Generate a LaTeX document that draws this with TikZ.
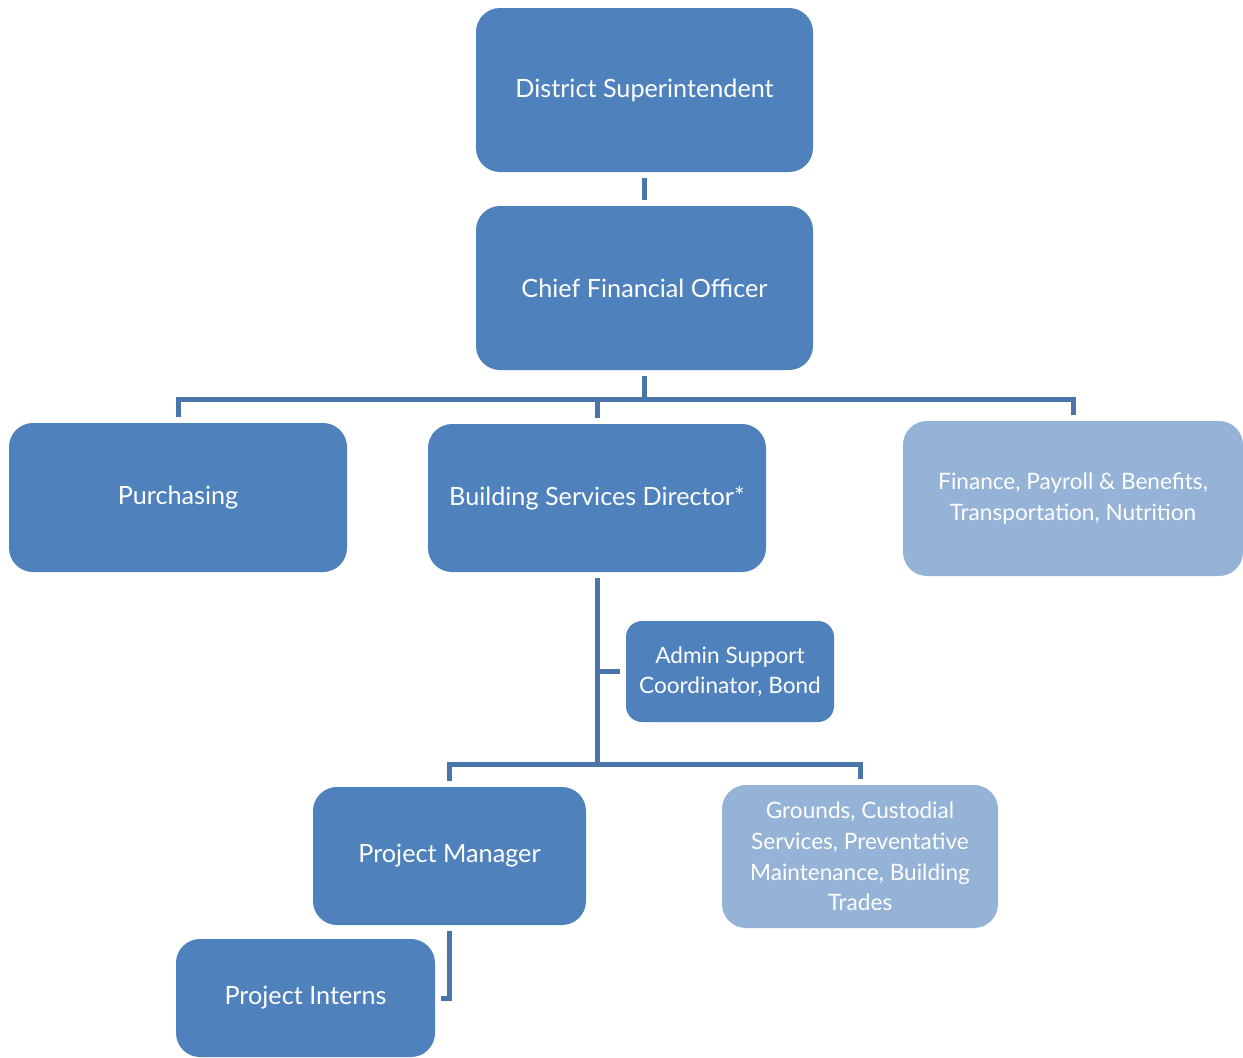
\documentclass[tikz,border=0pt]{standalone}
\usepackage{fontspec}
\setmainfont{Lato}

\definecolor{unitblue}{HTML}{4F81BD}
\definecolor{unitlight}{HTML}{95B3D7}
\definecolor{linkblue}{HTML}{4A75AB}

\begin{document}
\begin{tikzpicture}[x=0.5pt,y=-0.5pt,
    unit/.style={rectangle, rounded corners=12pt, fill=unitblue, text=white, align=center,
        inner sep=0pt, font=\fontsize{12.6}{15}\selectfont},
    support/.style={unit, fill=unitlight, font=\fontsize{11.3}{15.3}\selectfont},
    link/.style={draw=linkblue, line width=2.5pt, shorten <=3pt, shorten >=3pt}]

    \useasboundingbox (0,0) rectangle (1243,1057);

    % Top of the chart
    \node[unit, minimum width=168.5pt, minimum height=82pt] (super) at (644.5,90) {District Superintendent};
    \node[unit, minimum width=168.5pt, minimum height=82pt] (cfo) at (644.5,288) {Chief Financial Officer};

    % Second row
    \node[unit, minimum width=169pt, minimum height=74.5pt] (purch) at (178,497.5) {Purchasing};
    \node[unit, minimum width=169pt, minimum height=74pt] (bsd) at (597,498) {Building Services Director*};
    \node[support, minimum width=170pt, minimum height=77.5pt] (fin) at (1073,498.5)
        {Finance, Payroll \& Benefits,\\Transportation, Nutrition};

    % Assistant
    \node[unit, rounded corners=8pt, minimum width=104pt, minimum height=50.5pt, font=\fontsize{11.3}{15.3}\selectfont]
        (admin) at (730,671.5) {Admin Support\\Coordinator, Bond};

    % Third row
    \node[unit, minimum width=136.5pt, minimum height=69pt] (pm) at (449.5,856) {Project Manager};
    \node[support, minimum width=138pt, minimum height=71.5pt] (grounds) at (860,856.5)
        {Grounds, Custodial\\Services, Preventative\\Maintenance, Building\\Trades};
    \node[unit, minimum width=129.5pt, minimum height=59pt] (interns) at (305.5,998) {Project Interns};

    % Connectors
    \draw[link] (super) -- (cfo);
    \draw[link] (cfo.south) -- ++(0,29) -| (purch.north);
    \draw[link] (cfo.south) -- ++(0,29) -| (bsd.north);
    \draw[link] (cfo.south) -- ++(0,29) -| (fin.north);

    \draw[link] (bsd.south) -- ++(0,192) -| (pm.north);
    \draw[link] (bsd.south) -- ++(0,192) -| (grounds.north);
    \draw[link, shorten <=0pt] (bsd.south |- admin.west) -- (admin.west);

    \draw[link] (pm.south) |- (interns.east);

\end{tikzpicture}
\end{document}
